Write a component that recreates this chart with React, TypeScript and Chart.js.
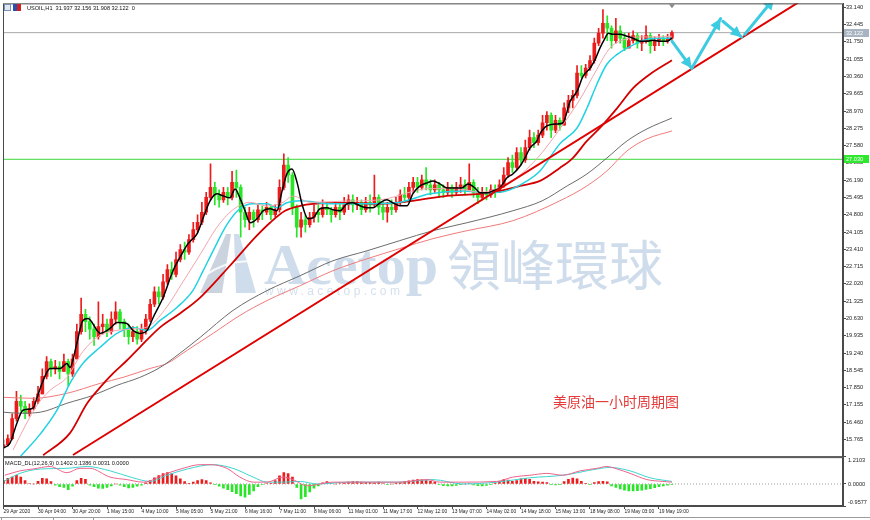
import React, { useEffect, useRef } from "react";
import { Chart, registerables } from "chart.js";

Chart.register(...registerables);

// ---------------- data ----------------
const timeLabels = [
  "29 Apr 2020", "30 Apr 04:00", "30 Apr 20:00", "1 May 15:00", "4 May 10:00",
  "5 May 05:00", "5 May 21:00", "6 May 16:00", "7 May 11:00", "8 May 06:00",
  "11 May 01:00", "11 May 17:00", "12 May 12:00", "13 May 07:00", "14 May 02:00",
  "14 May 18:00", "15 May 13:00", "18 May 08:00", "19 May 03:00", "19 May 19:00",
];
const barsPerLabel = 8;
const xRange = [-0.12, 194.67];
const priceRange = [15.094, 33.3];
const macdRange = [-0.9577, 1.2103];

const priceTicks = [
  33.14, 32.445, 31.75, 31.055, 30.36, 29.665, 28.97, 28.275, 27.58, 26.885,
  26.19, 25.495, 24.8, 24.105, 23.41, 22.715, 22.02, 21.325, 20.63, 19.935,
  19.24, 18.545, 17.85, 17.155, 16.46, 15.765,
];
const macdTicks = [1.2103, 0, -0.9577];

const firstOpen = 15.45;
const closes = [
  15.55, 15.8, 16.6, 17.3, 17.1, 16.8, 17.0, 17.3, 17.6, 18.3,
  18.9, 18.6, 18.7, 18.5, 18.9, 18.4, 19.0, 20.1, 20.8, 20.5,
  20.2, 19.9, 20.3, 20.4, 20.1, 20.6, 20.9, 20.5, 20.2, 19.9,
  20.1, 19.8, 20.2, 20.6, 21.2, 21.7, 21.5, 22.1, 22.6, 22.4,
  23.0, 23.4, 23.3, 23.8, 24.2, 24.5, 24.9, 25.5, 25.9, 25.6,
  25.4, 25.7, 25.5, 26.1, 25.9, 24.9, 24.6, 24.9, 24.6, 25.0,
  24.9, 25.1, 24.8, 25.0, 25.9, 26.8, 26.4, 25.1, 24.3, 24.6,
  24.4, 24.7, 24.9, 24.8, 25.1, 25.0, 24.8, 25.1, 24.9, 25.2,
  25.4, 25.2, 25.3, 25.0, 25.3, 25.2, 25.5, 25.1, 24.9, 25.1,
  25.0, 25.3, 25.6, 25.5, 25.9, 26.1, 25.9, 26.2, 26.0, 25.8,
  26.0, 25.8, 25.7, 25.9, 25.7, 25.9, 26.0, 25.8, 26.1, 25.7,
  25.5, 25.7, 25.6, 25.8, 25.7, 26.0, 26.4, 26.9, 26.7, 27.3,
  27.0, 27.5, 27.9, 27.7, 28.0, 28.5, 28.8, 28.2, 28.6, 28.4,
  29.1, 29.4, 29.6, 30.5, 30.4, 30.7, 31.0, 31.7, 32.1, 32.5,
  32.3, 31.8, 32.2, 31.9, 31.5, 31.8, 32.0, 31.7, 31.8, 32.0,
  31.6, 31.8, 31.9, 31.8, 31.9, 32.122,
];
const highs = [
  15.75, 15.95, 16.8, 17.7, 17.55, 17.3, 17.2, 17.45, 17.9, 18.6,
  19.1, 19.0, 18.95, 18.9, 19.2, 19.0, 19.2, 20.4, 21.45, 21.0,
  20.7, 20.4, 21.3, 20.8, 20.6, 20.9, 21.3, 21.0, 20.6, 20.4,
  20.3, 20.3, 20.4, 20.8, 21.4, 21.9, 21.9, 22.4, 22.8, 22.9,
  23.3, 23.6, 23.7, 24.0, 24.5, 24.8, 25.3, 25.7, 26.85, 26.1,
  25.8, 25.9, 25.9, 26.55, 26.6, 26.0, 25.1, 25.1, 25.0, 25.2,
  25.15, 25.3, 25.2, 25.2, 26.2, 27.25, 27.1, 26.5, 25.2, 24.9,
  24.8, 24.9, 25.2, 25.2, 25.4, 25.3, 25.1, 25.3, 25.3, 25.5,
  25.6, 25.6, 25.5, 25.4, 25.5, 25.6, 26.4, 25.6, 25.3, 25.3,
  25.4, 25.5, 25.8, 25.9, 26.1, 26.3, 26.3, 26.4, 26.7, 26.2,
  26.2, 26.1, 26.0, 26.1, 26.0, 26.1, 26.3, 26.2, 26.85, 26.2,
  25.9, 25.9, 25.9, 26.0, 26.0, 26.2, 26.7, 27.1, 27.2, 27.5,
  27.5, 27.8, 28.2, 28.1, 28.2, 28.8, 28.95, 28.9, 28.8, 28.7,
  29.3, 29.6, 29.8, 30.8, 30.8, 30.85, 31.2, 31.9, 32.3, 33.05,
  32.8, 32.4, 32.7, 32.4, 32.1, 32.1, 32.2, 32.1, 32.0, 32.4,
  32.1, 31.95, 32.05, 32.0, 32.05, 32.2,
];
const lows = [
  15.4, 15.5, 15.75, 16.5, 16.9, 16.6, 16.7, 16.95, 17.2, 17.6,
  18.2, 18.3, 18.4, 18.2, 18.5, 17.9, 18.3, 19.0, 20.0, 20.1,
  19.8, 19.55, 19.8, 20.0, 19.9, 20.0, 20.4, 20.2, 19.9, 19.6,
  19.7, 19.6, 19.7, 20.0, 20.5, 21.1, 21.2, 21.4, 22.0, 22.2,
  22.3, 22.9, 23.0, 23.2, 23.7, 24.1, 24.4, 24.8, 25.4, 25.2,
  25.1, 25.3, 25.2, 25.4, 25.5, 23.9, 24.3, 24.2, 24.3, 24.5,
  24.6, 24.8, 24.6, 24.7, 24.9, 25.8, 26.1, 24.8, 23.9, 23.9,
  24.1, 24.3, 24.5, 24.5, 24.7, 24.8, 24.5, 24.7, 24.6, 24.8,
  25.0, 24.9, 25.0, 24.8, 24.9, 24.9, 25.1, 24.8, 24.6, 24.5,
  24.8, 24.9, 25.2, 25.3, 25.4, 25.7, 25.7, 25.8, 25.8, 25.6,
  25.7, 25.5, 25.5, 25.6, 25.5, 25.6, 25.7, 25.6, 25.8, 25.5,
  25.25, 25.4, 25.4, 25.5, 25.5, 25.7, 25.9, 26.3, 26.5, 26.6,
  26.8, 26.9, 27.4, 27.5, 27.6, 27.9, 28.2, 27.9, 28.1, 28.2,
  28.4, 28.9, 29.1, 29.5, 30.3, 30.3, 30.6, 30.9, 31.6, 31.9,
  31.8, 31.5, 31.7, 31.7, 31.4, 31.6, 31.7, 31.5, 31.4, 31.7,
  31.3, 31.4, 31.6, 31.6, 31.7, 31.85,
];

// moving averages: [bar index, price]
const maBlack = [
  [0, 15.42], [1.5, 15.62], [3.1, 16.42], [4.5, 16.94], [6.8, 17.02], [7.8, 17.46], [9.2, 18.14],
  [10.8, 18.62], [13.1, 18.62], [14.7, 18.82], [15.4, 18.66], [17, 19.63], [18.4, 20.55], [19.6, 20.63],
  [21.7, 20.15], [22.4, 20.03], [24.7, 20.23], [26.3, 20.47], [28.6, 20.43], [30, 20.15], [31.6, 20.03],
  [33.3, 20.15], [34.7, 20.67], [37, 21.47], [39.3, 22.55], [41.4, 23.24], [42.8, 23.64], [44.9, 24.04],
  [46.3, 24.68], [47.9, 25.36], [49.5, 25.64], [50.9, 25.56], [52.5, 25.48], [53.7, 25.84], [54.8, 25.48],
  [56, 24.96], [57.2, 24.48], [58.8, 24.64], [60.2, 24.96], [61.8, 25.04], [63.4, 24.96], [64.6, 25.76],
  [65.7, 26.44], [66.9, 26.64], [68.1, 26.08], [69.2, 25.24], [70.6, 24.64], [71.8, 24.68], [73.4, 25.04],
  [75, 25.08], [76.4, 25.0], [78, 24.96], [79.6, 25.24], [81, 25.28], [82.7, 25.16], [84.3, 25.08],
  [85.7, 25.08], [87.3, 25.28], [88.9, 25.4], [90.3, 25.28], [91.9, 25.16], [93.6, 25.16], [94.9, 25.64],
  [96.6, 25.96], [98.2, 26.08], [99.6, 26.16], [101.2, 26.04], [102.8, 25.88], [104.2, 25.88], [106.3, 25.88],
  [107.7, 26.04], [109.3, 25.88], [110.5, 25.68], [112.1, 25.68], [113.5, 25.76], [115.1, 25.88], [116.7, 26.28],
  [118.1, 26.44], [119.8, 26.76], [120.9, 27.08], [122.1, 27.49], [123.7, 27.77], [124.4, 28.05], [126, 28.37],
  [128.3, 28.45], [129.7, 28.49], [131.4, 29.37], [133, 29.77], [134.4, 30.37], [136, 30.69], [137.2, 31.05],
  [138.3, 31.5], [139.5, 31.9], [140.2, 32.1], [141.3, 32.06], [142.9, 32.06], [144.6, 31.98], [146, 31.9],
  [147.6, 31.78], [149.2, 31.78], [150.6, 31.82], [152.2, 31.78], [153.9, 31.78], [155, 31.9],
];
const maPink = [
  [2.2, 15.34], [5, 16.3], [8, 17.2], [10.8, 17.74], [14.7, 18.26], [18.4, 19.3], [22.4, 19.95],
  [26.3, 20.15], [30, 20.2], [34, 20.35], [37.9, 21.1], [41.6, 22.1], [45.6, 23.2], [49.5, 24.3],
  [53.2, 25.0], [57.2, 25.3], [61.1, 25.15], [64.8, 25.3], [67.1, 25.55], [71.1, 25.3], [79.2, 25.35],
  [87.3, 25.4], [98.9, 25.85], [105, 25.85], [110.5, 25.7], [115.1, 25.9], [119.8, 26.4], [124.4, 27.2],
  [129, 28.25], [133.7, 29.45], [137.6, 30.65], [140.6, 31.5], [144.6, 31.88], [147.6, 31.95],
  [151.5, 31.95], [155, 31.98],
];
const maCyan = [
  [4, 15.1], [8.5, 15.98], [12.4, 16.94], [15.4, 18.02], [18.4, 18.82], [22.4, 19.47], [26.3, 20.03],
  [30, 20.27], [33.3, 20.15], [36.3, 20.55], [40.2, 21.07], [43.9, 21.75], [46.3, 22.55], [48.6, 23.35],
  [51.8, 24.4], [54.8, 25.04], [57.9, 25.24], [61.1, 25.24], [63.4, 25.08], [65.7, 25.28], [68.8, 25.36],
  [75.7, 25.24], [83.4, 25.24], [91.2, 25.28], [98.9, 25.64], [106.5, 25.76], [112.1, 25.68],
  [116.7, 25.76], [121.4, 26.16], [124.4, 26.56], [129, 27.65], [133, 28.29], [135.3, 29.09],
  [137.6, 30.05], [139.9, 30.85], [142.3, 31.25], [144.6, 31.5], [146.9, 31.7], [149.2, 31.86],
  [152.2, 31.9], [155, 31.9],
];
const maDarkRed = [
  [9.2, 15.13], [15.4, 16.02], [19.4, 17.22], [22.4, 17.86], [25.4, 18.42], [28.6, 18.94], [31.6, 19.47],
  [36.3, 20.27], [40.9, 20.83], [45.6, 21.47], [52.5, 22.75], [58.3, 23.88], [61.8, 24.48], [65.3, 24.96],
  [68.8, 25.16], [71.8, 25.24], [79.6, 25.28], [87.3, 25.24], [94.9, 25.36], [102.8, 25.56], [110.5, 25.64],
  [115.1, 25.76], [119.8, 25.96], [124.4, 26.16], [129, 26.68], [132, 27.08], [135.3, 27.77], [138.3, 28.29],
  [142.3, 29.09], [146, 29.89], [149.9, 30.45], [155, 31.01],
];
const maGray = [
  [0, 16.86], [3.8, 16.82], [8.5, 16.86], [14.7, 17.22], [20.8, 17.54], [26.3, 17.94], [31.6, 18.26],
  [36.3, 18.66], [40.9, 19.23], [45.6, 19.87], [53.2, 20.95], [61.1, 21.75], [68.8, 22.35], [76.4, 22.95],
  [84.3, 23.35], [91.9, 23.76], [99.6, 24.16], [107.5, 24.48], [118.1, 24.96], [124.9, 25.36], [130.7, 25.96],
  [135.3, 26.44], [139.9, 27.08], [144.6, 27.77], [149.2, 28.25], [155, 28.69],
];
const maLightRed = [
  [0, 17.46], [6.8, 17.42], [14.7, 17.62], [22.4, 18.02], [27.7, 18.26], [34, 18.62], [37.9, 18.82],
  [42.6, 19.35], [48.6, 20.03], [54.8, 20.75], [61.1, 21.35], [68.8, 21.95], [76.4, 22.55], [84.3, 23.03],
  [91.9, 23.44], [99.6, 23.84], [107.5, 24.16], [118.1, 24.56], [129, 25.36], [135.3, 25.96], [139.9, 26.56],
  [144.6, 27.37], [149.2, 27.85], [155, 28.17],
];

const trendLine = [[16.1, 15.14], [184.7, 33.38]];
const arrowPaths = [
  [[155, 31.78], [159.6, 30.69]],
  [[159.6, 30.69], [166.3, 32.69]],
  [[166.8, 32.58], [171.2, 31.94]],
  [[171.9, 32.06], [178.7, 33.5]],
];
const supportLevel = 27.03;
const lastPrice = 32.122;

const macdHist = [
  0.15, 0.25, 0.3, 0.38, 0.3, 0.15, 0.02, 0.0, 0.12, 0.25,
  0.22, 0.1, -0.05, -0.12, -0.15, -0.25, -0.1, 0.15, 0.25, 0.2,
  -0.05, -0.12, -0.18, -0.19, -0.15, -0.08, 0.0, -0.05, -0.12, -0.17,
  -0.15, -0.1, -0.05, 0.05, 0.15, 0.27, 0.37, 0.45, 0.5, 0.45,
  0.35, 0.22, 0.1, 0.03, 0.08, 0.15, 0.19, 0.15, 0.05, -0.03,
  -0.1, -0.18, -0.25, -0.33, -0.42, -0.52, -0.57, -0.45, -0.3, -0.12,
  -0.03, 0.02, 0.03, 0.15, 0.35, 0.5, 0.45, 0.3, -0.15, -0.65,
  -0.55, -0.35, -0.18, -0.08, 0.05, 0.1, 0.02, 0.0, 0.02, 0.03,
  0.08, 0.1, 0.1, 0.08, 0.07, 0.06, 0.05, 0.08, 0.02, -0.02,
  0.0, 0.03, 0.06, 0.1, 0.14, 0.17, 0.19, 0.18, 0.15, 0.12,
  0.08, -0.03, -0.07, -0.09, -0.08, -0.06, -0.03, 0.0, 0.02, -0.04,
  -0.07, -0.08, -0.06, -0.03, 0.05, 0.12, 0.19, 0.17, 0.12, 0.15,
  0.22, 0.25, 0.2, 0.12, 0.09, 0.08, 0.06, -0.03, -0.04, -0.02,
  0.1, 0.2, 0.26, 0.22, 0.12, 0.03, -0.02, 0.06, 0.1, 0.11,
  0.09, -0.08, -0.15, -0.22, -0.27, -0.3, -0.3, -0.29, -0.27, -0.24,
  -0.2, -0.16, -0.12, -0.08, -0.05, -0.02,
];
const macdMain = [
  [0.3, 0.38], [3.8, 0.57], [6.8, 0.65], [10.8, 0.76], [14.7, 0.49], [17.7, 0.68], [20, 0.68],
  [24.7, 0.3], [28.6, 0.19], [32.4, 0.08], [37.9, 0.46], [41.6, 0.68], [45.6, 0.84], [47.9, 0.84],
  [51.8, 0.68], [54.8, 0.3], [57.9, 0.08], [61.1, 0.08], [64.8, 0.3], [67.1, 0.19], [70.4, -0.08],
  [76.4, 0.08], [84.3, 0.08], [91.9, 0.08], [98.2, 0.19], [101.2, 0.08], [106.5, 0.08], [114.4, 0.11],
  [118.1, 0.3], [122.1, 0.38], [126, 0.46], [129.7, 0.38], [133.7, 0.57], [137.6, 0.68], [139.9, 0.76],
  [142.3, 0.65], [145.3, 0.46], [149.2, 0.19], [152.9, 0.11], [155, 0.08],
];
const macdSignal = [
  [0, 0.11], [3.8, 0.46], [8.5, 0.65], [14.7, 0.68], [19.4, 0.76], [24.7, 0.57], [30, 0.27],
  [34, 0.11], [37.9, 0.38], [42.6, 0.65], [48.6, 0.84], [53.2, 0.68], [57.9, 0.3], [61.1, 0.08],
  [64.8, 0.08], [68.8, 0.11], [72.7, 0.0], [80.3, 0.08], [91.9, 0.08], [99.6, 0.19], [106.5, 0.0],
  [114.4, 0.08], [122.1, 0.27], [129.7, 0.38], [137.6, 0.65], [140.6, 0.72], [145.3, 0.57],
  [149.9, 0.27], [155, 0.11],
];

const headerText = "USOIL,H1  31.937 32.156 31.908 32.122  0";
const macdTitle = "MACD_DL(12,26,9) 0.1402 0.1386 0.0031 0.0000";
const noteText = "美原油一小时周期图";
const brandLatin = "Acetop";
const brandCJK = "領峰環球";
const brandUrl = "www.acetop.com";

// ---------------- styles ----------------
const UP = "#ec1c1c";
const DOWN = "#26e626";
const AXIS = "#4a4a4a";
const SMALL_FONT = '5.6px "Liberation Sans", Arial, sans-serif';

const pts = (arr: number[][]) => arr.map(([x, y]) => ({ x, y }));

const decorPlugin = {
  id: "decor",
  beforeDraw(chart: any) {
    const { ctx, width, height } = chart;
    ctx.save();
    ctx.fillStyle = "#ffffff";
    ctx.fillRect(0, 0, width, height);
    ctx.restore();
  },
  beforeDatasetsDraw(chart: any) {
    const { ctx } = chart;
    const ys = chart.scales.y;
    const area = chart.chartArea;
    ctx.save();
    ctx.beginPath();
    ctx.rect(area.left, ys.top, area.right - area.left, ys.bottom - ys.top);
    ctx.clip();
    // logo
    ctx.globalAlpha = 0.85;
    ctx.fillStyle = "#c2ccd8";
    ctx.beginPath();
    ctx.moveTo(200, 293);
    ctx.lineTo(226, 234);
    ctx.lineTo(231, 234);
    ctx.lineTo(222, 293);
    ctx.closePath();
    ctx.fill();
    ctx.fillStyle = "#c6d6e8";
    ctx.beginPath();
    ctx.moveTo(234, 234);
    ctx.lineTo(239, 234);
    ctx.lineTo(256, 293);
    ctx.lineTo(236, 293);
    ctx.closePath();
    ctx.fill();
    ctx.strokeStyle = "#ffffff";
    ctx.lineWidth = 2;
    ctx.beginPath();
    ctx.moveTo(204, 276);
    ctx.quadraticCurveTo(230, 258, 256, 262);
    ctx.stroke();
    // brand texts
    ctx.fillStyle = "#c6d6e8";
    ctx.textBaseline = "alphabetic";
    ctx.font = 'bold 58px "Liberation Serif", "DejaVu Serif", serif';
    ctx.fillText(brandLatin, 264, 284);
    ctx.font = '54px "Noto Sans CJK TC", sans-serif';
    ctx.fillText(brandCJK, 447, 286);
    ctx.font = '12px "Liberation Sans", Arial, sans-serif';
    (ctx as any).letterSpacing = "3.4px";
    ctx.fillStyle = "#cddaea";
    ctx.fillText(brandUrl, 265, 295);
    (ctx as any).letterSpacing = "0px";
    ctx.restore();
  },
  afterDatasetsDraw(chart: any) {
    const { ctx } = chart;
    const ys = chart.scales.y;
    const area = chart.chartArea;
    ctx.save();
    ctx.beginPath();
    ctx.rect(area.left, ys.top, area.right - area.left, ys.bottom - ys.top);
    ctx.clip();
    chart.data.datasets.forEach((ds: any, i: number) => {
      if (!ds.arrowHead) return;
      const meta = chart.getDatasetMeta(i);
      const n = meta.data.length;
      const a = meta.data[n - 2];
      const b = meta.data[n - 1];
      const ang = Math.atan2(b.y - a.y, b.x - a.x);
      const L = 11;
      const W = 5.5;
      const bx = b.x - L * Math.cos(ang);
      const by = b.y - L * Math.sin(ang);
      ctx.fillStyle = ds.borderColor;
      ctx.beginPath();
      ctx.moveTo(b.x, b.y);
      ctx.lineTo(bx - W * Math.sin(ang), by + W * Math.cos(ang));
      ctx.lineTo(bx + W * Math.sin(ang), by - W * Math.cos(ang));
      ctx.closePath();
      ctx.fill();
    });
    ctx.restore();
  },
  afterDraw(chart: any) {
    const { ctx } = chart;
    const area = chart.chartArea;
    const ys = chart.scales.y;
    const y2 = chart.scales.y2;
    const xs = chart.scales.x;
    ctx.save();
    // panel frames
    ctx.strokeStyle = AXIS;
    ctx.lineWidth = 1;
    ctx.strokeRect(area.left + 0.5, ys.top + 0.5, area.right - area.left - 1, ys.bottom - ys.top);
    ctx.strokeRect(area.left + 0.5, y2.top + 1.5, area.right - area.left - 1, y2.bottom - y2.top - 2);
    // bottom tab strip
    ctx.strokeStyle = "#9a9a9a";
    ctx.beginPath();
    ctx.moveTo(0, 517.5);
    ctx.lineTo(870, 517.5);
    ctx.stroke();
    ctx.strokeRect(1.5, 517.5, 52, 4);
    ctx.strokeRect(53.5, 517.5, 40, 4);

    // right-axis value tags
    ctx.font = SMALL_FONT;
    ctx.textBaseline = "middle";
    ctx.textAlign = "left";
    const tag = (v: number, bg: string, fg: string) => {
      const py = Math.round(ys.getPixelForValue(v));
      ctx.fillStyle = bg;
      ctx.fillRect(area.right + 1, py - 4, 25, 8);
      ctx.fillStyle = fg;
      ctx.fillText(v.toFixed(3), area.right + 3, py + 0.5);
    };
    tag(lastPrice, "#a9b4c2", "#ffffff");
    tag(supportLevel, "#2ee82e", "#ffffff");

    // MACD axis labels
    ctx.fillStyle = "#222";
    macdTicks.forEach((v) => {
      const py = y2.getPixelForValue(v);
      ctx.textBaseline = v === macdRange[1] ? "top" : v === macdRange[0] ? "bottom" : "middle";
      const dy = v === macdRange[1] ? 2 : v === macdRange[0] ? -1 : 0;
      ctx.fillText(v.toFixed(4), area.right + 5, py + dy);
    });

    // header
    ctx.textBaseline = "middle";
    ctx.fillStyle = "#dfe8f2";
    ctx.fillRect(4, 4, 7, 7);
    ctx.strokeStyle = "#7b93b0";
    ctx.strokeRect(4.5, 4.5, 6, 6);
    ctx.fillStyle = "#2a4fb0";
    ctx.fillRect(13, 4, 4, 7);
    ctx.fillStyle = "#d02020";
    ctx.fillRect(17, 4, 4, 7);
    ctx.fillStyle = "#111";
    ctx.fillText(headerText, 27, 8.5);
    ctx.fillText(macdTitle, 5, y2.top + 7);

    // shift marker at the top
    const mx = xs.getPixelForValue(closes.length - 1);
    ctx.fillStyle = "#888";
    ctx.beginPath();
    ctx.moveTo(mx - 3, ys.top + 1);
    ctx.lineTo(mx + 3, ys.top + 1);
    ctx.lineTo(mx, ys.top + 5);
    ctx.closePath();
    ctx.fill();

    // note text
    ctx.font = '14px "Noto Sans CJK SC", sans-serif';
    ctx.fillStyle = "#e63a3a";
    ctx.textBaseline = "middle";
    ctx.fillText(noteText, 553, 402);
    ctx.restore();
  },
};

export default function App() {
  const ref = useRef<HTMLCanvasElement | null>(null);

  useEffect(() => {
    if (!ref.current) return;
    const opens = closes.map((c, i) => (i === 0 ? firstOpen : closes[i - 1]));
    const candleColors = closes.map((c, i) => (c >= opens[i] ? UP : DOWN));
    const histColors = macdHist.map((v) => (v >= 0 ? UP : DOWN));

    const lineDs = (label: string, data: number[][], color: string, width: number, order: number, extra: any = {}) => ({
      type: "line",
      label,
      data: pts(data),
      borderColor: color,
      backgroundColor: color,
      borderWidth: width,
      pointRadius: 0,
      fill: false,
      cubicInterpolationMode: "monotone",
      yAxisID: "y",
      order,
      ...extra,
    });

    const datasets: any[] = [
      lineDs("support", [[xRange[0], supportLevel], [xRange[1], supportLevel]], "#3ad83a", 1, 30, { cubicInterpolationMode: "default" }),
      lineDs("last", [[xRange[0], lastPrice], [xRange[1], lastPrice]], "#a8a8a8", 1, 30, { cubicInterpolationMode: "default" }),
      {
        type: "bar",
        label: "wick",
        data: lows.map((l, i) => ({ x: i, y: [l, highs[i]] })),
        backgroundColor: candleColors,
        barThickness: 1,
        grouped: false,
        borderWidth: 0,
        yAxisID: "y",
        order: 22,
      },
      {
        type: "bar",
        label: "body",
        data: closes.map((c, i) => ({ x: i, y: [opens[i], c] })),
        backgroundColor: candleColors,
        barThickness: 3,
        minBarLength: 1,
        grouped: false,
        borderWidth: 0,
        yAxisID: "y",
        order: 21,
      },
      lineDs("gray", maGray, "#6c6c6c", 1, 18),
      lineDs("lightred", maLightRed, "#f07a7a", 1, 18),
      lineDs("darkred", maDarkRed, "#d40000", 1.8, 16),
      lineDs("cyan", maCyan, "#22d2e2", 1.5, 15),
      lineDs("pink", maPink, "#f2a6ae", 1, 14),
      lineDs("black", maBlack, "#000000", 1.5, 12),
      lineDs("trend", trendLine, "#e00000", 2, 10, { cubicInterpolationMode: "default" }),
      ...arrowPaths.map((p, k) =>
        lineDs("arrow" + k, p, "#3ccbe0", 3, 5, { cubicInterpolationMode: "default", arrowHead: true, borderCapStyle: "round" })
      ),
      {
        type: "bar",
        label: "hist",
        data: macdHist.map((v, i) => ({ x: i, y: v })),
        backgroundColor: histColors,
        barThickness: 2,
        grouped: false,
        borderWidth: 0,
        yAxisID: "y2",
        order: 22,
      },
      lineDs("zero", [[xRange[0], 0], [xRange[1], 0]], "#9a9a9a", 1, 25, {
        yAxisID: "y2",
        borderDash: [1, 2],
        cubicInterpolationMode: "default",
      }),
      lineDs("macd", macdMain, "#f0648c", 1, 12, { yAxisID: "y2" }),
      lineDs("signal", macdSignal, "#3ed6d0", 1, 13, { yAxisID: "y2" }),
    ];

    const chart = new Chart(ref.current, {
      type: "bar",
      data: { datasets },
      plugins: [decorPlugin],
      options: {
        animation: false,
        responsive: false,
        events: [],
        layout: { padding: { left: 3, top: 2, right: 0, bottom: 0 } },
        plugins: { legend: { display: false }, tooltip: { enabled: false } },
        scales: {
          x: {
            type: "linear",
            position: "bottom",
            min: xRange[0],
            max: xRange[1],
            offset: false,
            grid: { display: true, offset: false, drawOnChartArea: false, drawTicks: true, tickLength: 3, color: AXIS },
            border: { display: true, color: AXIS },
            afterBuildTicks: (s: any) => {
              s.ticks = timeLabels.map((_, k) => ({ value: k * barsPerLabel }));
            },
            afterFit: (s: any) => {
              s.height = 14;
            },
            ticks: {
              autoSkip: false,
              maxRotation: 0,
              minRotation: 0,
              align: "start",
              padding: 0,
              color: "#222",
              font: { size: 4.9, family: '"Liberation Sans", Arial, sans-serif' },
              callback: (_v: any, idx: number) => timeLabels[idx] ?? "",
            },
          },
          y: {
            type: "linear",
            position: "right",
            stack: "panes",
            stackWeight: 454,
            min: priceRange[0],
            max: priceRange[1],
            grid: { drawOnChartArea: false, drawTicks: true, tickLength: 3, color: AXIS },
            border: { display: true, color: AXIS },
            afterBuildTicks: (s: any) => {
              s.ticks = priceTicks.map((v) => ({ value: v }));
            },
            afterFit: (s: any) => {
              s.width = 27;
            },
            ticks: {
              autoSkip: false,
              padding: 0,
              color: "#222",
              font: { size: 5.6, family: '"Liberation Sans", Arial, sans-serif' },
              callback: (v: any) => Number(v).toFixed(3),
            },
          },
          y2: {
            type: "linear",
            position: "right",
            stack: "panes",
            stackWeight: 50,
            min: macdRange[0],
            max: macdRange[1],
            grid: { drawOnChartArea: false, drawTicks: true, tickLength: 3, color: AXIS },
            border: { display: true, color: AXIS },
            afterBuildTicks: (s: any) => {
              s.ticks = macdTicks.map((v) => ({ value: v }));
            },
            afterFit: (s: any) => {
              s.width = 27;
            },
            ticks: { display: false },
          },
        },
      } as any,
    } as any);

    return () => chart.destroy();
  }, []);

  return (
    <div style={{ position: "absolute", left: 0, top: 0, width: 870, height: 520, background: "#fff" }}>
      <canvas ref={ref} width={870} height={520} style={{ display: "block", width: 870, height: 520 }} />
    </div>
  );
}
